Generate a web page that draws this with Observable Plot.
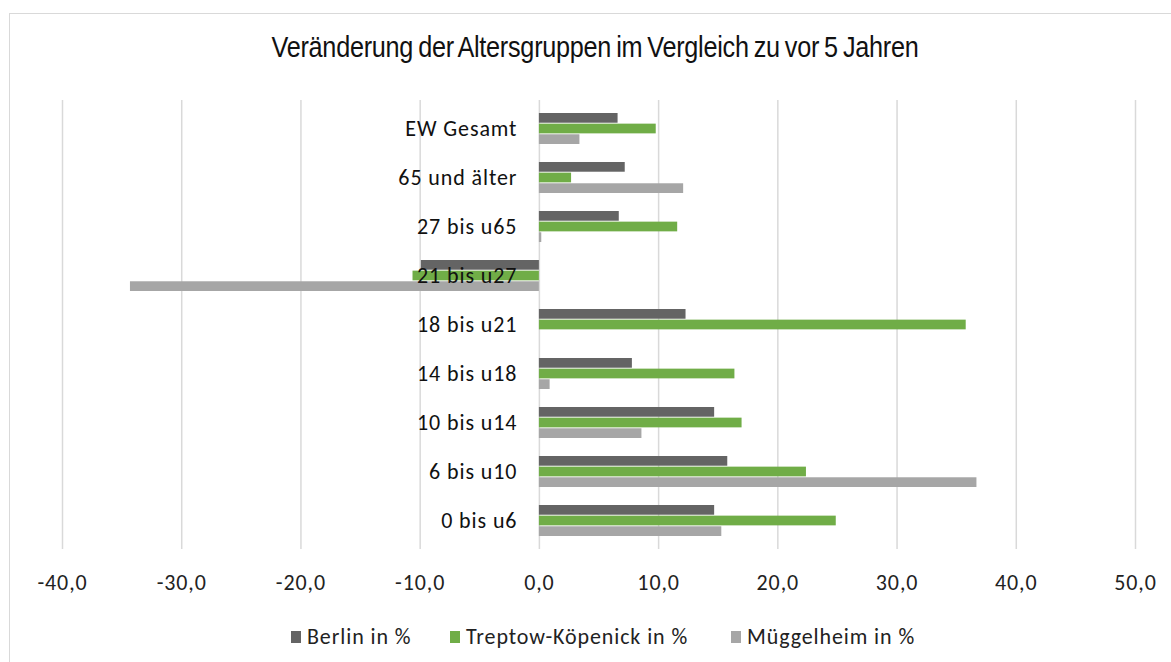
<!DOCTYPE html>
<html>
<head>
<meta charset="utf-8">
<script src="https://cdn.jsdelivr.net/npm/d3@7"></script>
<script src="https://cdn.jsdelivr.net/npm/@observablehq/plot@0.6"></script>
<style>
  html, body { margin: 0; padding: 0; background: #fff; }
  #wrap { position: relative; width: 1171px; height: 662px; overflow: hidden; background: #fff; }
  #frame { position: absolute; left: 9px; top: 13px; width: 1180px; height: 700px; border: 1.5px solid #d9d9d9; box-sizing: border-box; }
  #title { position: absolute; left: 0; width: 1190px; top: 33px; line-height: 29px; text-align: center; font-family: "Liberation Sans", Arial, sans-serif; font-size: 29px; letter-spacing: -0.3px; word-spacing: -2px; color: #111; transform: scaleX(0.87); transform-origin: 595px 50%; }
  #chart { position: absolute; left: 0; top: 90px; }
  #legend { position: absolute; left: 0; top: 626px; width: 1171px; height: 22px; font-family: Carlito, Calibri, Lato, sans-serif; font-size: 22px; line-height: 22px; letter-spacing: 0.9px; color: #222; }
  .item { position: absolute; top: 0; white-space: nowrap; display: flex; align-items: center; height: 22px; }
  .sw { display: inline-block; width: 10px; height: 12px; margin-right: 6px; }
</style>
</head>
<body>
<div id="wrap">
  <div id="frame"></div>
  <div id="title">Veränderung der Altersgruppen im Vergleich zu vor 5 Jahren</div>
  <div id="chart"></div>
  <div id="legend"></div>
</div>
<script>
const categories = ["EW Gesamt", "65 und älter", "27 bis u65", "21 bis u27", "18 bis u21", "14 bis u18", "10 bis u14", "6 bis u10", "0 bis u6"];
const seriesNames = ["Berlin in %", "Treptow-Köpenick in %", "Müggelheim in %"];
const seriesColors = ["#646464", "#70ad47", "#a6a6a6"];
const berlin =    [6.6, 7.2, 6.7, -9.9, 12.3, 7.8, 14.7, 15.8, 14.7];
const treptow =   [9.8, 2.7, 11.6, -10.6, 35.8, 16.4, 17.0, 22.4, 24.9];
const muggelheim = [3.4, 12.1, 0.2, -34.3, 0.0, 0.9, 8.6, 36.7, 15.3];
const xTicks = [-40, -30, -20, -10, 0, 10, 20, 30, 40, 50];

const seriesValues = [berlin, treptow, muggelheim];
const rows = categories.flatMap((c, i) => seriesNames.map((s, k) => ({category: c, series: s, k, value: seriesValues[k][i]})));

const bh = 10.64;
const barMarks = seriesNames.map((s, k) => Plot.barX(rows.filter(d => d.k === k), {
  x: "value", y: "category", fill: seriesColors[k],
  insetTop: k * bh, insetBottom: (2 - k) * bh
}));

const fmt = d3.format(".1f");
const chart = Plot.plot({
  width: 1171,
  height: 520,
  marginTop: 10,
  marginBottom: 61,
  marginLeft: 62,
  marginRight: 36,
  style: {fontFamily: "Carlito, Calibri, Lato, sans-serif", fontSize: "22px", letterSpacing: "0.9px", color: "#222", background: "transparent"},
  x: {domain: [-40, 50], ticks: xTicks, tickFormat: d => fmt(d).replace("\u2212", "-").replace(".", ","), tickSize: 0, tickPadding: 25, label: null},
  y: {domain: categories, paddingInner: 0.36, paddingOuter: 0.18, axis: null},
  marks: [
    Plot.gridX(xTicks, {stroke: "#d9d9d9", strokeOpacity: 1, strokeWidth: 1.5}),
    ...barMarks,
    Plot.text(categories, {y: d => d, x: () => 0, text: d => d, textAnchor: "end", dx: -22, fill: "#111", fontSize: 22})
  ]
});
document.getElementById("chart").appendChild(chart);

const legendPos = [291, 450, 731];
const legend = document.getElementById("legend");
seriesNames.forEach((s, k) => {
  const it = document.createElement("div");
  it.className = "item";
  it.style.left = legendPos[k] + "px";
  it.innerHTML = `<span class="sw" style="background:${seriesColors[k]}"></span><span>${s}</span>`;
  legend.appendChild(it);
});
</script>
</body>
</html>
